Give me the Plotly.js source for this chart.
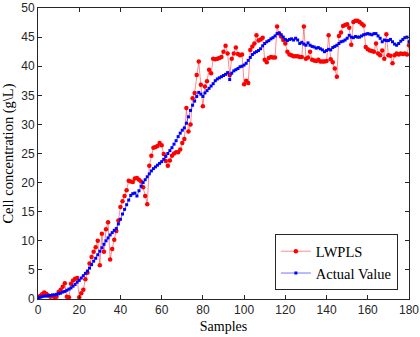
<!DOCTYPE html>
<html>
<head>
<meta charset="utf-8">
<script src="https://cdn.plot.ly/plotly-3.0.1.min.js"></script>
<style>
body { margin: 0; background: #fff; }
#chart { width: 420px; height: 337px; }
</style>
</head>
<body>
<div id="chart"></div>
<script>
// sample index 0..180
const samples = [];
for (let i = 0; i <= 180; i++) samples.push(i);

const lwpls = [
    0.3, 0.5, 0.8, 1.1, 0.9, 0.6, 0.4, 0.5, 0.3, 0.4,
    1.2, 1.6, 2.1, 2.7, 0.4, 0.3, 2.6, 3.2, 3.5, 3.6,
    0.3, 1.0, 1.6, 3.4, 4.5, 6.1, 7.2, 8.1, 8.9, 10.0,
    5.8, 11.2, 8.1, 12.0, 13.2, 6.8, 8.6, 10.2, 11.7, 13.5,
    15.8, 16.8, 17.7, 18.7, 20.3, 20.2, 20.1, 20.7, 20.8, 20.5,
    20.2, 19.2, 17.7, 16.3, 22.9, 24.6, 26.0, 26.1, 26.3, 26.8,
    26.4, 24.9, 23.7, 22.9, 23.8, 24.6, 25.0, 25.2, 25.2, 25.7,
    26.8, 27.5, 32.8, 28.8, 30.0, 34.5, 35.4, 38.5, 40.8, 36.8,
    33.1, 36.5, 37.4, 39.4, 38.8, 41.3, 41.2, 41.3, 41.4, 41.6,
    42.5, 43.5, 42.2, 38.5, 41.3, 42.2, 43.2, 42.1, 41.9, 42.0,
    36.9, 37.5, 37.1, 42.8, 43.4, 43.9, 45.3, 44.4, 44.6, 44.9,
    41.1, 40.7, 41.4, 41.6, 41.5, 41.5, 46.8, 45.6, 45.1, 44.5,
    43.9, 42.5, 42.0, 41.9, 41.7, 41.7, 41.7, 41.6, 41.6, 46.8,
    41.3, 41.5, 42.5, 41.1, 41.0, 40.9, 41.1, 40.8, 40.8, 40.8,
    40.9, 45.3, 41.2, 40.7, 39.6, 38.2, 45.2, 45.8, 46.9, 47.1,
    47.2, 46.6, 43.7, 47.6, 47.8, 47.8, 47.6, 47.3, 47.0, 43.3,
    42.9, 42.7, 42.6, 42.5, 43.9, 42.2, 41.9, 42.7, 41.3, 45.5,
    41.9, 41.8, 40.5, 41.9, 42.2, 42.0, 42.2, 42.1, 42.2, 42.0,
    43.6
];

const actual = [
    0.2, 0.3, 0.4, 0.5, 0.5, 0.6, 0.6, 0.7, 0.7, 0.8,
    0.9, 1.0, 1.2, 1.3, 1.5, 1.7, 1.9, 2.2, 2.5, 2.9,
    3.2, 3.6, 4.0, 4.4, 4.8, 5.3, 5.9, 6.5, 7.0, 7.6,
    8.2, 8.8, 9.4, 10.0, 10.5, 11.0, 11.4, 11.8, 12.1, 12.9,
    13.7, 14.6, 15.4, 16.2, 17.0, 17.8, 18.1, 18.2, 17.7, 18.6,
    19.4, 20.0, 20.5, 21.0, 21.5, 22.0, 22.4, 22.7, 23.0, 23.3,
    23.6, 24.0, 24.5, 25.0, 25.5, 26.0, 26.6, 27.2, 27.9, 28.5,
    29.0, 29.4, 30.2, 31.3, 32.4, 33.3, 34.0, 34.8, 35.5, 35.2,
    34.8, 35.4, 35.8, 36.2, 36.6, 37.0, 37.5, 37.8, 38.0, 38.2,
    38.4, 38.6, 38.9, 37.7, 38.8, 39.2, 39.4, 39.6, 39.9, 40.0,
    40.2, 40.5, 41.0, 41.5, 42.0, 42.3, 42.5, 42.7, 43.0, 43.5,
    43.9, 44.2, 44.4, 44.7, 44.9, 45.2, 45.6, 45.7, 45.4, 45.0,
    44.6, 44.4, 44.6, 44.7, 44.5, 44.8, 44.5, 43.9, 44.1, 43.8,
    43.6, 44.0, 43.6, 43.4, 43.3, 43.1, 43.2, 43.0, 42.8, 42.5,
    42.7, 42.9, 42.8, 43.2, 43.4, 43.6, 43.9, 44.2, 44.3, 44.5,
    44.8, 45.3, 45.0, 44.9, 45.1, 45.0, 45.0, 45.2, 45.4, 45.5,
    45.6, 45.5, 45.4, 45.6, 45.6, 45.2, 44.8, 44.2, 44.5, 44.4,
    44.4, 44.6, 44.2, 43.8, 43.6, 43.9, 44.3, 44.6, 44.9, 45.0,
    44.2
];

const xTicks = [0, 20, 40, 60, 80, 100, 120, 140, 160, 180];
const yTicks = [0, 5, 10, 15, 20, 25, 30, 35, 40, 45, 50];

const traceLwpls = {
    x: samples,
    y: lwpls,
    type: 'scatter',
    mode: 'lines+markers',
    name: 'LWPLS',
    line: {color: 'rgba(255,0,0,0.45)', width: 1},
    marker: {color: '#ff0000', size: 4.5}
};

const traceActual = {
    x: samples,
    y: actual,
    type: 'scatter',
    mode: 'lines+markers',
    name: 'Actual Value',
    line: {color: 'rgba(0,0,255,0.55)', width: 1},
    marker: {color: '#0000ff', size: 3, symbol: 'square'}
};

const axisCommon = {
    showline: true,
    linecolor: '#262626',
    linewidth: 1,
    mirror: 'ticks',
    ticks: 'inside',
    ticklen: 4,
    tickcolor: '#262626',
    showgrid: false,
    zeroline: false,
    tickfont: {family: 'Liberation Sans, Arial, sans-serif', size: 12, color: '#262626'}
};

const layout = {
    width: 420,
    height: 337,
    margin: {l: 38, r: 11, t: 8, b: 38},
    paper_bgcolor: '#ffffff',
    plot_bgcolor: '#ffffff',
    showlegend: true,
    xaxis: Object.assign({}, axisCommon, {
        range: [0, 180],
        tickvals: xTicks,
        title: {text: 'Samples', font: {family: 'Liberation Serif, Times New Roman, serif', size: 14, color: '#000'}, standoff: 4}
    }),
    yaxis: Object.assign({}, axisCommon, {
        range: [0, 50],
        tickvals: yTicks,
        ticklabeloverflow: 'allow',
        title: {text: 'Cell concentration (g\\L)', font: {family: 'Liberation Serif, Times New Roman, serif', size: 14.5, color: '#000'}, standoff: 6}
    }),
    legend: {
        x: 0.97,
        y: 0.03,
        xanchor: 'right',
        yanchor: 'bottom',
        bgcolor: '#ffffff',
        bordercolor: '#262626',
        borderwidth: 1,
        font: {family: 'Liberation Serif, Times New Roman, serif', size: 14.5, color: '#000'},
        tracegroupgap: 0
    }
};

Plotly.newPlot('chart', [traceLwpls, traceActual], layout, {displayModeBar: false, staticPlot: true});
</script>
</body>
</html>
